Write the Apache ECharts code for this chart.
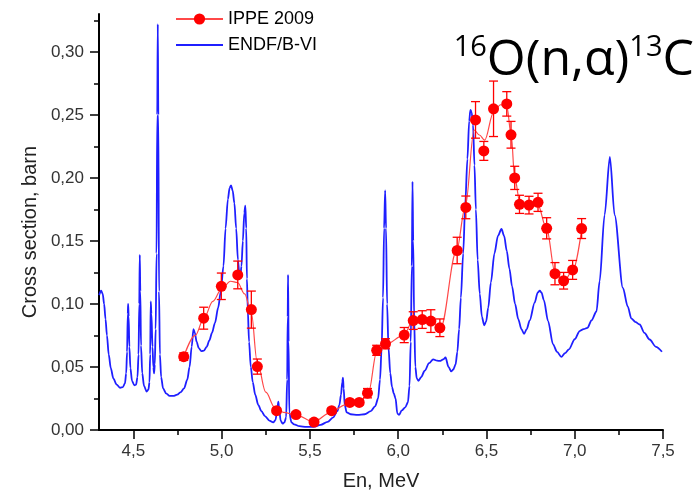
<!DOCTYPE html>
<html>
<head>
<meta charset="utf-8">
<script src="https://cdn.jsdelivr.net/npm/echarts@6/dist/echarts.min.js"></script>
<style>
  html, body { margin: 0; padding: 0; background: #fff; }
  #chart { width: 697px; height: 496px; }
</style>
</head>
<body>
<div id="chart"></div>
<script>
// Axis tick positions
const xMajorTicks = [4.5, 5.0, 5.5, 6.0, 6.5, 7.0, 7.5];
const xMinorTicks = [4.75, 5.25, 5.75, 6.25, 6.75, 7.25];
const yMajorTicks = [0, 0.05, 0.10, 0.15, 0.20, 0.25, 0.30];
const yMinorTicks = [0.025, 0.075, 0.125, 0.175, 0.225, 0.275, 0.325];

// IPPE 2009 measurements: neutron energy (MeV), cross section (barn), uncertainty (barn)
const ippeEnergy = [4.785, 4.898, 4.998, 5.091, 5.168, 5.202, 5.311, 5.421, 5.523, 5.623,
  5.726, 5.779, 5.826, 5.878, 5.928, 6.034, 6.085, 6.136, 6.185, 6.236,
  6.334, 6.383, 6.438, 6.485, 6.540, 6.615, 6.639, 6.660, 6.687, 6.741,
  6.792, 6.841, 6.888, 6.937, 6.988, 7.039];
const ippeSigma = [0.0582, 0.0887, 0.114, 0.123, 0.0955, 0.0503, 0.0153, 0.0122, 0.0063, 0.0153,
  0.0219, 0.0219, 0.0292, 0.0632, 0.0684, 0.0753, 0.0868, 0.0876, 0.0864, 0.0811,
  0.1424, 0.1766, 0.246, 0.2214, 0.2548, 0.2587, 0.2342, 0.200, 0.179, 0.1784,
  0.1806, 0.160, 0.124, 0.1184, 0.127, 0.1598];
const ippeError = [0.003, 0.0087, 0.0105, 0.011, 0.0147, 0.006, 0.002, 0.002, 0.002, 0.002,
  0.002, 0.002, 0.0037, 0.004, 0.004, 0.006, 0.007, 0.007, 0.009, 0.007,
  0.0105, 0.009, 0.0145, 0.0075, 0.022, 0.0097, 0.0106, 0.0092, 0.0072, 0.007,
  0.0072, 0.0084, 0.0088, 0.0066, 0.0075, 0.0079];

// Smoothed curve drawn through the IPPE data
const fitEnergy = [4.785, 4.85, 4.90, 4.95, 5.00, 5.05, 5.09, 5.13, 5.168, 5.20,
  5.25, 5.30, 5.35, 5.42, 5.52, 5.62, 5.70, 5.73, 5.78, 5.83,
  5.88, 5.93, 6.03, 6.085, 6.14, 6.19, 6.24, 6.33, 6.38, 6.43,
  6.46, 6.49, 6.54, 6.58, 6.615, 6.64, 6.66, 6.69, 6.74, 6.79,
  6.84, 6.89, 6.94, 6.99, 7.04];
const fitSigma = [0.058, 0.075, 0.089, 0.102, 0.112, 0.118, 0.117, 0.108, 0.093, 0.055,
  0.030, 0.018, 0.014, 0.012, 0.0065, 0.014, 0.020, 0.022, 0.022, 0.029,
  0.063, 0.068, 0.075, 0.087, 0.088, 0.086, 0.081, 0.142, 0.177, 0.238,
  0.234, 0.230, 0.252, 0.258, 0.257, 0.234, 0.200, 0.180, 0.178, 0.179,
  0.160, 0.124, 0.118, 0.127, 0.160];

// ENDF/B-VI evaluated cross section
const endfEnergy = [4.306, 4.317, 4.326, 4.334, 4.342, 4.350, 4.360, 4.372, 4.386, 4.405,
  4.425, 4.440, 4.452, 4.459, 4.464, 4.468, 4.470, 4.473, 4.477, 4.483,
  4.492, 4.505, 4.515, 4.523, 4.529, 4.533, 4.536, 4.539, 4.543, 4.550,
  4.560, 4.575, 4.585, 4.591, 4.595, 4.598, 4.602, 4.608, 4.613, 4.617,
  4.621, 4.626, 4.631, 4.635, 4.638, 4.641, 4.645, 4.650, 4.657, 4.668,
  4.685, 4.705, 4.726, 4.748, 4.768, 4.787, 4.805, 4.818, 4.830, 4.840,
  4.848, 4.858, 4.870, 4.885, 4.900, 4.915, 4.930, 4.945, 4.962, 4.980,
  4.995, 5.010, 5.022, 5.035, 5.045, 5.053, 5.062, 5.072, 5.082, 5.092,
  5.100, 5.106, 5.112, 5.120, 5.128, 5.134, 5.139, 5.143, 5.148, 5.155,
  5.165, 5.176, 5.190, 5.207, 5.225, 5.245, 5.270, 5.292, 5.305, 5.316,
  5.321, 5.326, 5.334, 5.345, 5.355, 5.365, 5.371, 5.374, 5.376, 5.379,
  5.383, 5.395, 5.410, 5.440, 5.480, 5.520, 5.560, 5.600, 5.632, 5.655,
  5.667, 5.676, 5.683, 5.687, 5.691, 5.697, 5.708, 5.730, 5.770, 5.810,
  5.845, 5.870, 5.886, 5.897, 5.906, 5.914, 5.920, 5.926, 5.931, 5.937,
  5.945, 5.955, 5.965, 5.975, 5.985, 5.995, 6.005, 6.020, 6.040, 6.055,
  6.064, 6.071, 6.077, 6.081, 6.085, 6.090, 6.097, 6.105, 6.115, 6.130,
  6.150, 6.175, 6.198, 6.220, 6.236, 6.255, 6.268, 6.285, 6.300, 6.312,
  6.325, 6.335, 6.345, 6.355, 6.368, 6.380, 6.392, 6.402, 6.409, 6.416,
  6.424, 6.432, 6.440, 6.450, 6.462, 6.474, 6.487, 6.498, 6.510, 6.525,
  6.545, 6.565, 6.585, 6.600, 6.615, 6.630, 6.645, 6.662, 6.680, 6.698,
  6.713, 6.728, 6.745, 6.773, 6.790, 6.802, 6.812, 6.825, 6.849, 6.877,
  6.900, 6.924, 6.945, 6.967, 7.000, 7.028, 7.050, 7.072, 7.095, 7.123,
  7.141, 7.169, 7.199, 7.226, 7.273, 7.300, 7.321, 7.345, 7.368, 7.395,
  7.424, 7.460, 7.494];
const endfSigma = [0.107, 0.1105, 0.108, 0.100, 0.088, 0.075, 0.060, 0.049, 0.041, 0.036,
  0.0335, 0.034, 0.037, 0.045, 0.062, 0.092, 0.100, 0.090, 0.066, 0.049,
  0.039, 0.0355, 0.036, 0.042, 0.060, 0.100, 0.139, 0.110, 0.067, 0.045,
  0.035, 0.0305, 0.032, 0.038, 0.060, 0.102, 0.092, 0.066, 0.050, 0.045,
  0.052, 0.080, 0.140, 0.250, 0.322, 0.250, 0.110, 0.060, 0.042, 0.033,
  0.029, 0.027, 0.027, 0.028, 0.030, 0.033, 0.040, 0.050, 0.066, 0.080,
  0.077, 0.070, 0.065, 0.0625, 0.063, 0.066, 0.071, 0.077, 0.085, 0.097,
  0.110, 0.130, 0.160, 0.183, 0.192, 0.194, 0.190, 0.180, 0.160, 0.135,
  0.124, 0.122, 0.130, 0.150, 0.172, 0.178, 0.160, 0.120, 0.095, 0.070,
  0.050, 0.038, 0.028, 0.020, 0.015, 0.011, 0.0075, 0.006, 0.008, 0.018,
  0.0225, 0.016, 0.0075, 0.005, 0.006, 0.010, 0.040, 0.090, 0.123, 0.070,
  0.014, 0.006, 0.0045, 0.003, 0.0025, 0.0025, 0.004, 0.0065, 0.010, 0.015,
  0.020, 0.028, 0.038, 0.0415, 0.033, 0.020, 0.014, 0.0125, 0.012, 0.0125,
  0.015, 0.019, 0.025, 0.040, 0.065, 0.105, 0.160, 0.190, 0.160, 0.100,
  0.065, 0.045, 0.034, 0.029, 0.025, 0.013, 0.012, 0.0155, 0.018, 0.022,
  0.035, 0.070, 0.130, 0.197, 0.150, 0.090, 0.050, 0.041, 0.039, 0.042,
  0.047, 0.053, 0.056, 0.055, 0.0548, 0.056, 0.0575, 0.050, 0.0465, 0.048,
  0.052, 0.062, 0.080, 0.105, 0.140, 0.180, 0.215, 0.245, 0.254, 0.252,
  0.242, 0.210, 0.175, 0.135, 0.108, 0.090, 0.083, 0.086, 0.097, 0.117,
  0.140, 0.154, 0.1595, 0.154, 0.142, 0.128, 0.114, 0.100, 0.088, 0.080,
  0.0763, 0.080, 0.087, 0.101, 0.109, 0.1105, 0.109, 0.103, 0.0864, 0.068,
  0.062, 0.058, 0.061, 0.064, 0.072, 0.0785, 0.080, 0.081, 0.087, 0.094,
  0.118, 0.1705, 0.2166, 0.1705, 0.1127, 0.098, 0.0884, 0.0855, 0.0837, 0.077,
  0.0718, 0.066, 0.0621];

const xMin = 4.305, xMax = 7.5, yMin = 0, yMax = 0.33;
const RED = '#ff0000';
const BLUE = '#1f1fff';
const FONT = 'Liberation Sans';

const zip = (a, b) => a.map((v, i) => [v, b[i]]);
const comma = (v, d) => v.toFixed(d).replace('.', ',');

const chart = echarts.init(document.getElementById('chart'), null, { renderer: 'canvas' });

const axisLineStyle = { show: true, lineStyle: { color: '#000', width: 2 } };

chart.setOption({
  animation: false,
  backgroundColor: '#fff',
  grid: { left: 99, right: 34, top: 14, bottom: 63 },
  title: {
    text: '{s|16}{m|O(n,α)}{s|13}{m|C}',
    right: 3,
    top: 33,
    padding: 0,
    textStyle: {
      fontWeight: 'normal',
      rich: {
        m: { fontSize: 50, fontFamily: 'Open Sans', fontWeight: 'normal', color: '#000', lineHeight: 56 },
        s: { fontSize: 29, fontFamily: 'Open Sans', fontWeight: 'normal', color: '#000', lineHeight: 40, verticalAlign: 'top' }
      }
    }
  },
  legend: {
    data: [
      { name: 'IPPE 2009' },
      { name: 'ENDF/B-VI', itemStyle: { opacity: 0 } }
    ],
    orient: 'vertical',
    left: 170,
    top: 5,
    itemWidth: 47,
    itemHeight: 14,
    itemGap: 8,
    textStyle: { fontSize: 18, fontFamily: FONT, color: '#000' }
  },
  xAxis: [{
    type: 'value', min: xMin, max: xMax,
    name: 'En, MeV', nameLocation: 'middle', nameGap: 41,
    nameTextStyle: { fontSize: 20, fontFamily: FONT, color: '#222' },
    axisLine: axisLineStyle,
    axisTick: { show: true, inside: false, length: 9, lineStyle: { color: '#000', width: 1.5 }, customValues: xMajorTicks },
    axisLabel: { show: true, margin: 13, fontSize: 17, fontFamily: FONT, color: '#333', customValues: xMajorTicks, formatter: v => comma(v, 1) },
    splitLine: { show: false }
  }, {
    type: 'value', min: xMin, max: xMax, position: 'bottom',
    axisLine: { show: false },
    axisTick: { show: true, inside: false, length: 5, lineStyle: { color: '#000', width: 1.5 }, customValues: xMinorTicks },
    axisLabel: { show: false },
    splitLine: { show: false }
  }],
  yAxis: [{
    type: 'value', min: yMin, max: yMax,
    name: 'Cross section, barn', nameLocation: 'middle', nameGap: 58,
    nameTextStyle: { fontSize: 20, fontFamily: FONT, color: '#222', padding: [0, 20, 0, 0] },
    axisLine: axisLineStyle,
    axisTick: { show: true, inside: false, length: 9, lineStyle: { color: '#000', width: 1.5 }, customValues: yMajorTicks },
    axisLabel: { show: true, margin: 15, fontSize: 17, fontFamily: FONT, color: '#333', customValues: yMajorTicks, formatter: v => comma(v, 2) },
    splitLine: { show: false }
  }, {
    type: 'value', min: yMin, max: yMax, position: 'left',
    axisLine: { show: false },
    axisTick: { show: true, inside: false, length: 5, lineStyle: { color: '#000', width: 1.5 }, customValues: yMinorTicks },
    axisLabel: { show: false },
    splitLine: { show: false }
  }],
  series: [
    {
      name: 'ENDF/B-VI', type: 'line', xAxisIndex: 0, yAxisIndex: 0,
      data: zip(endfEnergy, endfSigma),
      symbol: 'none', smooth: 0.3, smoothMonotone: 'x',
      lineStyle: { color: BLUE, width: 1.8 },
      itemStyle: { color: BLUE },
      silent: true, z: 2
    },
    {
      name: 'IPPE 2009', type: 'line', xAxisIndex: 0, yAxisIndex: 0,
      data: zip(fitEnergy, fitSigma),
      symbol: 'circle', symbolSize: 11, showSymbol: false, smooth: 0.35, smoothMonotone: 'x',
      lineStyle: { color: '#ff4848', width: 1.2 },
      itemStyle: { color: RED },
      silent: true, z: 3
    },
    {
      name: 'IPPE errors', type: 'custom', xAxisIndex: 0, yAxisIndex: 0,
      data: ippeEnergy.map((e, i) => [e, ippeSigma[i], ippeError[i]]),
      renderItem: (params, api) => {
        const x = api.value(0), y = api.value(1), err = api.value(2);
        const top = api.coord([x, y + err]);
        const bot = api.coord([x, y - err]);
        const hw = 4.5;
        const style = { stroke: RED, lineWidth: 1.3 };
        return {
          type: 'group',
          children: [
            { type: 'line', shape: { x1: top[0], y1: top[1], x2: bot[0], y2: bot[1] }, style },
            { type: 'line', shape: { x1: top[0] - hw, y1: top[1], x2: top[0] + hw, y2: top[1] }, style },
            { type: 'line', shape: { x1: bot[0] - hw, y1: bot[1], x2: bot[0] + hw, y2: bot[1] }, style }
          ]
        };
      },
      silent: true, z: 4
    },
    {
      name: 'IPPE points', type: 'scatter', xAxisIndex: 0, yAxisIndex: 0,
      data: zip(ippeEnergy, ippeSigma),
      symbol: 'circle', symbolSize: 11,
      itemStyle: { color: RED, opacity: 1 },
      silent: true, z: 5
    }
  ]
});
</script>
</body>
</html>
